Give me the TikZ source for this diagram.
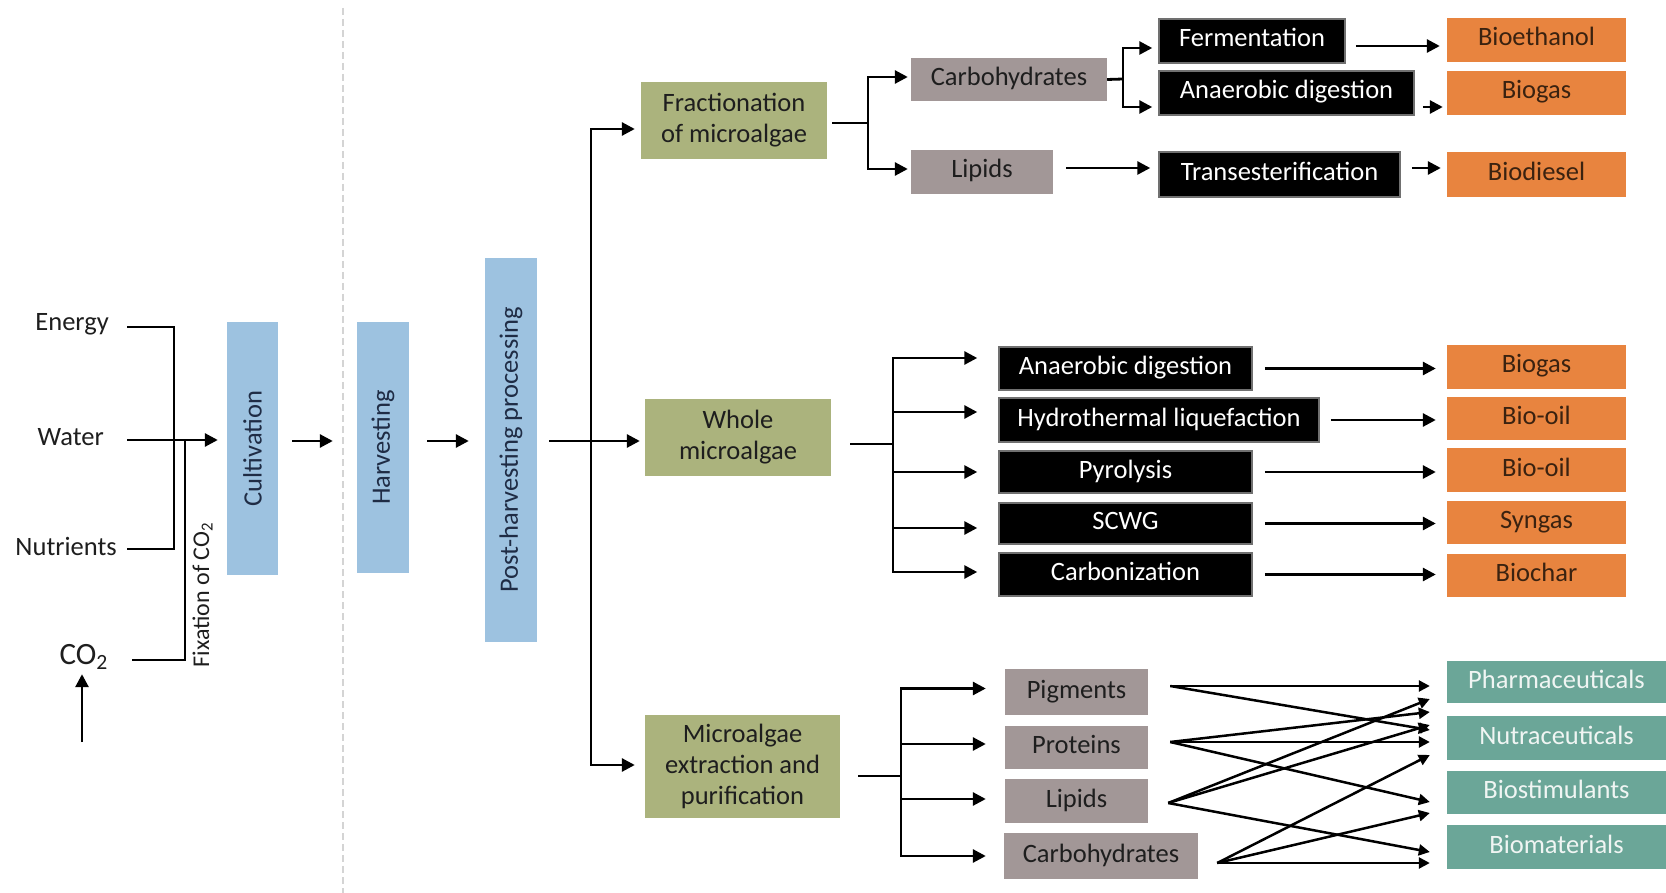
\documentclass[tikz,border=0pt]{standalone}
\usepackage{fontspec}
\setmainfont{Carlito}
\usetikzlibrary{arrows.meta,calc}
\definecolor{bluebox}{HTML}{9DC2E0}
\definecolor{bluetxt}{HTML}{1F2C45}
\definecolor{olivebox}{HTML}{ABB37D}
\definecolor{mauvebox}{HTML}{A29797}
\definecolor{orangebox}{HTML}{E8843F}
\definecolor{orangetxt}{HTML}{3A2210}
\definecolor{tealbox}{HTML}{6BA698}
\definecolor{tealtxt}{HTML}{F0F5F3}
\definecolor{darktxt}{HTML}{1E1E1E}
\definecolor{dashgray}{HTML}{D4D4D4}
\definecolor{blkborder}{HTML}{707070}
\begin{document}
\begin{tikzpicture}[x=1pt,y=-1pt,
  txt/.style={font=\fontsize{26.5}{31}\selectfont},
  one/.style={txt, text height=17pt, text depth=5pt},
  box/.style={inner sep=0pt},
  bluebx/.style={box, txt, fill=bluebox, text=bluetxt},
  olivebx/.style={box, txt, align=center, fill=olivebox, text=darktxt},
  mauvebx/.style={box, one, fill=mauvebox, text=darktxt},
  blackbx/.style={box, one, fill=black, draw=blkborder, line width=1.5pt, text=white},
  orangebx/.style={box, one, fill=orangebox, text=orangetxt, minimum width=179},
  tealbx/.style={box, one, fill=tealbox, text=tealtxt, minimum width=219},
  lbl/.style={one, inner sep=0pt, text=darktxt},
  ln/.style={line width=2.8pt},
  arr/.style={ln, -{Triangle[length=13pt,width=13pt]}},
  arrs/.style={line width=2.5pt, -{Triangle[length=11pt,width=11pt]}}
]
\useasboundingbox (0,0) rectangle (1666,893);
\fill[white] (0,0) rectangle (1666,893);

% separator
\coordinate (dtop) at (343,8);
\coordinate (dbot) at (343,893);
\draw[dashgray, line width=1.5pt, dash pattern=on 7pt off 4pt] (dtop) -- (dbot);

% left inputs
\node[lbl, anchor=east] (energy) at (109,325) {Energy};
\node[lbl, anchor=east] (water) at (104,439) {Water};
\node[lbl, anchor=east] (nutr) at (117,549) {Nutrients};
\node[lbl, font=\fontsize{31}{36}\selectfont, anchor=east] (co2) at (108,658) {CO\textsubscript{2}};
\node[lbl, font=\fontsize{24}{28}\selectfont, rotate=90] (fixlbl) at (203,595) {Fixation of CO\textsubscript{2}};

% blue stages
\node[bluebx, minimum width=51, minimum height=253] (cult) at (252.5,448.5) {\rotatebox{90}{Cultivation}};
\node[bluebx, minimum width=52, minimum height=251] (harv) at (383,447.5) {\rotatebox{90}{Harvesting}};
\node[bluebx, minimum width=52, minimum height=384] (post) at (511,450) {\rotatebox{90}{Post-harvesting processing}};

% olive
\node[olivebx, minimum width=186, minimum height=77] (frac) at (734,120.5) {Fractionation\\of microalgae};
\node[olivebx, minimum width=186, minimum height=77] (whole) at (738,437.5) {Whole\\microalgae};
\node[olivebx, minimum width=195, minimum height=103] (extr) at (742.5,766.5) {Microalgae\\extraction and\\purification};

% top branch
\node[mauvebx, minimum width=196, minimum height=43] (carbA) at (1009,79.5) {Carbohydrates};
\node[mauvebx, minimum width=142, minimum height=44] (lipA) at (982,172) {Lipids};
\node[blackbx, minimum width=186, minimum height=44] (ferm) at (1252,41) {Fermentation};
\node[blackbx, minimum width=255, minimum height=44] (adA) at (1286.5,93) {Anaerobic digestion};
\node[blackbx, minimum width=241, minimum height=45] (trans) at (1279.5,174.5) {Transesterification};
\node[orangebx, minimum height=44] (bioeth) at (1536.5,40) {Bioethanol};
\node[orangebx, minimum height=44] (biogasA) at (1536.5,93) {Biogas};
\node[orangebx, minimum height=45] (biodiesel) at (1536.5,174.5) {Biodiesel};

% middle branch
\node[blackbx, minimum width=253, minimum height=43] (adB) at (1125.5,368.5) {Anaerobic digestion};
\node[blackbx, minimum width=320, minimum height=44] (htl) at (1159,420) {Hydrothermal liquefaction};
\node[blackbx, minimum width=253, minimum height=42] (pyro) at (1125.5,472) {Pyrolysis};
\node[blackbx, minimum width=253, minimum height=41] (scwg) at (1125.5,523.5) {SCWG};
\node[blackbx, minimum width=253, minimum height=43] (carbz) at (1125.5,574.5) {Carbonization};
\node[orangebx, minimum height=44] (biogasB) at (1536.5,367) {Biogas};
\node[orangebx, minimum height=43] (biooil1) at (1536.5,418.5) {Bio-oil};
\node[orangebx, minimum height=44] (biooil2) at (1536.5,470) {Bio-oil};
\node[orangebx, minimum height=43] (syngas) at (1536.5,522.5) {Syngas};
\node[orangebx, minimum height=43] (biochar) at (1536.5,575.5) {Biochar};

% bottom branch
\node[mauvebx, minimum width=143, minimum height=46] (pig) at (1076.5,692) {Pigments};
\node[mauvebx, minimum width=143, minimum height=43] (prot) at (1076.5,747.5) {Proteins};
\node[mauvebx, minimum width=143, minimum height=44] (lipB) at (1076.5,801) {Lipids};
\node[mauvebx, minimum width=194, minimum height=46] (carbB) at (1101,856) {Carbohydrates};
\node[tealbx, minimum height=42] (pharma) at (1556.5,682) {Pharmaceuticals};
\node[tealbx, minimum height=44] (nutra) at (1556.5,738) {Nutraceuticals};
\node[tealbx, minimum height=43] (biostim) at (1556.5,792.5) {Biostimulants};
\node[tealbx, minimum height=44] (biomat) at (1556.5,847) {Biomaterials};

% ---- connectors: inputs
\coordinate (inj) at (174,440);
\draw[ln] ($(energy.east)+(18,2)$) -| (inj) |- ($(nutr.east)+(10,0)$);
\draw[arr] ($(water.east)+(23,1)$) -- ($(water.east -| cult.west)+(-9,1)$);
\coordinate (fixj) at (185,440);
\draw[ln] ($(co2.east)+(24,2)$) -| (fixj);
\coordinate (co2src) at (82,742);
\draw[arr] (co2src) -- ($(co2src |- co2.south)+(0,5)$);

% main line
\coordinate (mainy) at (0,441);
\draw[arr] ($(cult.east |- mainy)+(14,0)$) -- ($(harv.west |- mainy)+(-24,0)$);
\draw[arr] ($(harv.east |- mainy)+(18,0)$) -- ($(post.west |- mainy)+(-16,0)$);
\draw[arr] ($(post.east |- mainy)+(12,0)$) -- ($(whole.west |- mainy)+(-5,0)$);
\coordinate (tr) at (591,441);
\draw[arr] (tr) |- ($(frac.west)+(-6,8.5)$);
\draw[arr] (tr) |- ($(extr.west)+(-10,-1.5)$);

% top branch connectors
\coordinate (fj) at (868,123);
\draw[ln] ($(frac.east)+(5,2.5)$) -- (fj);
\draw[arr] (fj) |- ($(carbA.west)+(-3,-2.5)$);
\draw[arr] (fj) |- ($(lipA.west)+(-3,-3)$);
\coordinate (cj) at (1123,79);
\draw[ln] (carbA.east) -- (cj);
\draw[arr] (cj) |- ($(ferm.west)+(-6,7)$);
\draw[arr] (cj) |- ($(adA.west)+(-6,14)$);
\draw[arr] ($(lipA.east)+(13,-4)$) -- ($(trans.west)+(-8,-6.5)$);
\draw[arr] ($(ferm.east)+(10,5)$) -- ($(bioeth.west)+(-7,6)$);
\draw[arr] ($(adA.east)+(8,14)$) -- ($(biogasA.west)+(-4,14)$);
\draw[arr] ($(trans.east)+(11,-6.5)$) -- ($(biodiesel.west)+(-6,-6.5)$);

% middle branch connectors
\coordinate (wj) at (893,444);
\draw[ln] ($(whole.east)+(19,6.5)$) -- (wj);
\draw[arr] (wj) |- ($(adB.west)+(-21,-10.5)$);
\draw[arr] (wj) |- ($(htl.west)+(-21,-8)$);
\draw[arr] (wj) |- ($(pyro.west)+(-21,0)$);
\draw[arr] (wj) |- ($(scwg.west)+(-21,4.5)$);
\draw[arr] (wj) |- ($(carbz.west)+(-21,-2.5)$);
\draw[arr] ($(adB.east)+(12,0)$) -- ($(adB.east -| biogasB.west)+(-11,0)$);
\draw[arr] ($(htl.east)+(11,0)$) -- ($(htl.east -| biooil1.west)+(-11,0)$);
\draw[arr] ($(pyro.east)+(12,0)$) -- ($(pyro.east -| biooil2.west)+(-11,0)$);
\draw[arr] ($(scwg.east)+(12,0)$) -- ($(scwg.east -| syngas.west)+(-11,0)$);
\draw[arr] ($(carbz.east)+(12,0)$) -- ($(carbz.east -| biochar.west)+(-11,0)$);

% bottom branch connectors
\coordinate (ej) at (901,776);
\draw[ln] ($(extr.east)+(18,9.5)$) -- (ej);
\draw[arr] (ej) |- ($(pig.west)+(-19,-3.5)$);
\draw[arr] (ej) |- ($(prot.west)+(-19,-3.5)$);
\draw[arr] (ej) |- ($(lipB.west)+(-19,-2)$);
\draw[arr] (ej) |- ($(carbB.west)+(-18,0)$);

\draw[arrs] ($(pig.east)+(22,-6)$) -- ($(pharma.west)+(-17,4)$);
\draw[arrs] ($(pig.east)+(22,-6)$) -- ($(nutra.west)+(-17,-8)$);
\draw[arrs] ($(prot.east)+(22,-5.5)$) -- ($(pharma.west)+(-17,30)$);
\draw[arrs] ($(prot.east)+(22,-5.5)$) -- ($(nutra.west)+(-17,4)$);
\draw[arrs] ($(prot.east)+(22,-5.5)$) -- ($(biostim.west)+(-17,9.5)$);
\draw[arrs] ($(lipB.east)+(20,2)$) -- ($(pharma.west)+(-17,17)$);
\draw[arrs] ($(lipB.east)+(20,2)$) -- ($(nutra.west)+(-17,-13)$);
\draw[arrs] ($(lipB.east)+(20,2)$) -- ($(biomat.west)+(-17,5)$);
\draw[arrs] ($(carbB.east)+(19,7)$) -- ($(nutra.west)+(-17,17)$);
\draw[arrs] ($(carbB.east)+(19,7)$) -- ($(biostim.west)+(-17,20.5)$);
\draw[arrs] ($(carbB.east)+(19,7)$) -- ($(biomat.west)+(-17,16)$);
\end{tikzpicture}
\end{document}
